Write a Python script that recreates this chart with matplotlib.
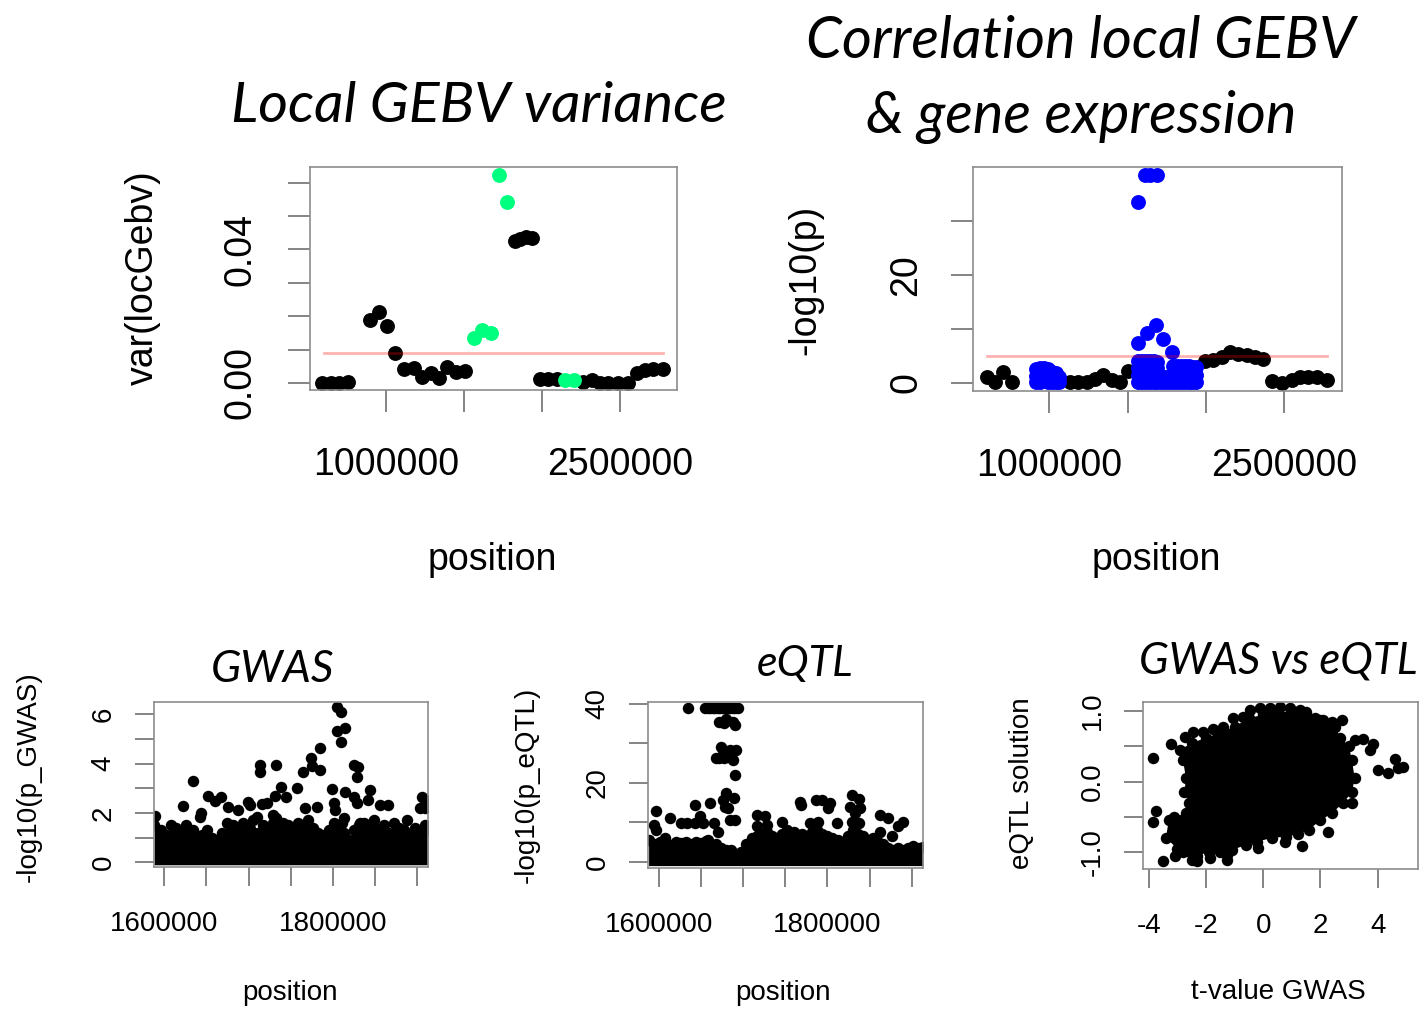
import numpy as np
from matplotlib import pyplot as plt

plt.rcParams['font.family'] = ['Liberation Sans', 'DejaVu Sans']

# ---- top left: local GEBV variance ----
tl_pos = [590000, 647000, 699000, 756000, 897000, 957000, 1004000, 1060000, 1117000,
          1181000, 1233000, 1286000, 1340000, 1389000, 1447000, 1506000, 1827000, 1860000,
          1895000, 1938000, 1987000, 2041000, 2094000, 2265000, 2319000, 2372000, 2425000,
          2489000, 2553000, 2611000, 2660000, 2714000, 2778000]
tl_var = [0.0, 0.0, 0.0, 0.0002, 0.0189, 0.0213, 0.0172, 0.0091, 0.0042,
          0.0044, 0.0017, 0.0031, 0.0014, 0.0047, 0.0033, 0.0035, 0.0425, 0.0432,
          0.0438, 0.0433, 0.0012, 0.0013, 0.0013, 0.0004, 0.0009, 0.0, 0.0,
          0.0001, 0.0001, 0.0029, 0.0039, 0.0042, 0.0041]
tl_sig_pos = [1564000, 1617000, 1675000, 1724000, 1778000, 2147000, 2205000]
tl_sig_var = [0.0136, 0.0159, 0.0150, 0.0622, 0.0542, 0.0009, 0.0009]
tl_thresh = 0.0091
tl_thresh_range = [600000, 2778000]

# ---- top right: correlation local GEBV & expression ----
tr_pos = [600000, 653000, 706000, 760000, 1132000, 1185000, 1239000, 1292000, 1345000,
          1399000, 1452000, 1505000, 1996000, 2049000, 2102000, 2155000, 2208000, 2262000,
          2315000, 2368000, 2422000, 2486000, 2550000, 2603000, 2656000, 2710000, 2774000]
tr_logp = [1.0, 0.2, 2.0, 0.2, 0.2, 0.2, 0.2, 0.8, 1.4,
           0.5, 0.2, 2.2, 4.0, 4.2, 4.8, 5.7, 5.4, 5.2,
           4.8, 4.4, 0.3, 0.0, 0.5, 1.1, 1.1, 1.1, 0.6]
tr_sig_pos = [915000, 915000, 915000, 940000, 940000, 940000, 965000, 965000, 965000,
              990000, 990000, 990000, 1015000, 1015000, 1015000, 1040000, 1040000, 1040000,
              1063000, 1063000,
              1569000, 1569000, 1569000, 1569000, 1595000, 1595000, 1595000, 1595000,
              1620000, 1620000, 1620000, 1620000, 1645000, 1645000, 1645000, 1645000,
              1670000, 1670000, 1670000, 1670000, 1690000, 1690000, 1690000, 1690000,
              1715000, 1715000, 1740000, 1740000, 1765000, 1765000,
              1790000, 1790000, 1790000, 1815000, 1815000, 1815000, 1840000, 1840000, 1840000,
              1865000, 1865000, 1865000, 1890000, 1890000, 1890000, 1915000, 1915000, 1915000,
              1940000, 1940000, 1940000,
              1569000, 1612000, 1644000, 1687000, 1569000, 1623000, 1680000, 1729000, 1783000]
tr_sig_logp = [0.2, 1.2, 2.6, 0.2, 1.5, 2.8, 0.3, 1.3, 2.7,
               0.2, 1.0, 2.6, 0.2, 1.1, 2.0, 0.2, 1.2, 1.9,
               0.2, 1.1,
               0.2, 1.5, 2.8, 4.1, 0.2, 1.5, 2.8, 4.1,
               0.2, 1.5, 2.8, 4.1, 0.2, 1.5, 2.8, 4.1,
               0.2, 1.5, 2.8, 4.0, 0.2, 1.5, 2.8, 3.8,
               0.2, 1.1, 0.2, 1.0, 0.2, 1.1,
               0.2, 1.6, 3.1, 0.2, 1.6, 3.1, 0.2, 1.6, 3.1,
               0.2, 1.6, 3.1, 0.2, 1.6, 3.1, 0.2, 1.6, 3.0,
               0.2, 1.5, 2.9,
               33.5, 38.4, 38.4, 38.4, 7.4, 9.2, 10.7, 8.1, 5.7]
tr_thresh = 5.0
tr_thresh_range = [600000, 2774000]

# ---- bottom left: GWAS (positions in kb) ----
# upper edge of the dense band of SNPs near zero
gwas_band_pos = [1588, 1596, 1602, 1608, 1614, 1620, 1626, 1632, 1638, 1645, 1651, 1657, 1663,
                 1669, 1675, 1681, 1687, 1693, 1699, 1705, 1711, 1717, 1723, 1729, 1735, 1741,
                 1747, 1753, 1759, 1765, 1771, 1777, 1783, 1789, 1795, 1801, 1807, 1813, 1819,
                 1825, 1831, 1837, 1843, 1849, 1855, 1861, 1867, 1873, 1879, 1885, 1891, 1897,
                 1903, 1909, 1913]
gwas_band_top = [1.5, 1.3, 1.1, 1.5, 1.4, 1.2, 1.5, 1.0, 0.9, 1.1, 1.3, 1.0, 0.9,
                 1.2, 1.6, 1.5, 1.4, 1.6, 1.4, 1.7, 1.2, 1.5, 1.3, 1.6, 1.4, 1.6,
                 1.5, 1.3, 1.6, 1.5, 1.7, 1.4, 1.2, 1.1, 1.3, 1.6, 1.4, 1.2, 0.9,
                 1.3, 1.5, 1.6, 1.4, 1.7, 1.3, 1.5, 1.2, 1.6, 1.4, 1.3, 1.1, 1.4,
                 1.2, 1.5, 1.3]
gwas_pos = [1805, 1810, 1805, 1815, 1810, 1785, 1774, 1775, 1765, 1785, 1714, 1714, 1733,
            1634, 1825, 1830, 1829, 1739, 1744, 1757, 1799, 1814, 1844, 1652, 1667, 1660,
            1622, 1699, 1702, 1716, 1722, 1731, 1644, 1642, 1676, 1688, 1710, 1767, 1781,
            1801, 1803, 1825, 1829, 1842, 1856, 1866, 1906, 1910, 1904, 1910, 1888, 1589,
            1634, 1636, 1678, 1690, 1729, 1733, 1813, 1811, 1832, 1848]
gwas_logp = [6.28, 6.10, 5.33, 5.43, 4.86, 4.64, 4.24, 3.90, 3.67, 3.73, 3.94, 3.65, 3.94,
             3.31, 3.94, 3.88, 3.47, 3.07, 2.66, 3.00, 2.97, 2.86, 2.95, 2.70, 2.63, 2.48,
             2.28, 2.46, 2.32, 2.35, 2.39, 2.69, 1.98, 1.85, 2.26, 2.12, 1.85, 2.19, 2.26,
             2.39, 2.12, 2.66, 2.39, 2.52, 2.32, 2.32, 2.66, 2.52, 2.19, 2.19, 1.71, 1.88,
             1.31, 1.04, 1.17, 1.31, 1.92, 1.78, 1.78, 1.58, 1.58, 1.65]

# ---- bottom middle: eQTL (positions in kb) ----
eqtl_band_pos = [1588, 1596, 1602, 1608, 1614, 1620, 1626, 1632, 1638, 1644, 1650, 1656, 1662,
                 1668, 1674, 1680, 1686, 1692, 1698, 1704, 1710, 1716, 1722, 1728, 1734, 1740,
                 1746, 1752, 1758, 1764, 1770, 1776, 1782, 1788, 1794, 1800, 1806, 1812, 1818,
                 1824, 1830, 1836, 1842, 1848, 1854, 1860, 1866, 1872, 1878, 1884, 1890, 1896,
                 1902, 1908, 1913]
eqtl_band_top = [5.5, 4.5, 5.0, 6.0, 4.2, 5.0, 4.8, 5.0, 4.5, 5.0, 4.7, 5.2, 4.0,
                 4.5, 3.5, 3.0, 3.0, 2.0, 2.5, 4.5, 6.0, 6.5, 7.0, 7.5, 6.5, 6.0,
                 7.0, 6.5, 5.5, 6.0, 7.0, 6.5, 7.5, 8.0, 7.0, 6.5, 6.0, 5.5, 5.0,
                 6.5, 8.0, 7.0, 6.5, 5.5, 6.0, 5.0, 4.5, 3.5, 3.0, 3.5, 3.0, 3.5,
                 4.0, 3.5, 3.8]
eqtl_pos = [1635, 1655, 1658, 1661, 1664, 1667, 1670, 1673, 1676, 1679, 1682, 1685, 1688,
            1691, 1694,
            1672, 1677, 1680, 1688, 1690, 1674, 1676, 1668, 1672, 1677, 1684, 1692, 1682,
            1688, 1690, 1680, 1676, 1678, 1689, 1682, 1684, 1690, 1597, 1613, 1594, 1597,
            1627, 1633, 1643, 1649, 1653, 1643, 1661, 1666, 1670, 1659, 1716, 1726, 1746,
            1767, 1769, 1787, 1793, 1803, 1801, 1829, 1837, 1827, 1833, 1839, 1829, 1837,
            1862, 1872, 1890, 1884, 1779, 1789, 1811, 1716, 1728, 1752, 1760, 1862, 1876]
eqtl_logp = [38.9, 38.9, 38.9, 38.9, 38.9, 38.9, 38.9, 38.9, 38.9, 38.9, 38.9, 38.9, 38.9,
             38.9, 38.9,
             35.4, 35.0, 36.2, 35.4, 34.5, 29.1, 27.4, 26.2, 26.2, 26.2, 28.3, 28.3, 26.6,
             25.7, 22.1, 17.4, 15.7, 14.0, 16.1, 13.6, 10.6, 10.6, 13.0, 11.1, 9.4, 8.1,
             9.8, 9.8, 9.8, 11.5, 9.8, 14.4, 15.0, 9.8, 7.5, 5.6, 11.9, 11.5, 10.2,
             15.1, 14.4, 15.7, 15.7, 14.8, 13.6, 16.9, 15.8, 14.0, 12.3, 13.6, 10.2, 9.8,
             11.9, 11.1, 10.0, 9.0, 9.8, 10.2, 9.8, 9.0, 9.4, 8.1, 7.7, 7.7, 6.5]

# ---- bottom right: GWAS t-value vs eQTL solution ----
# outline of the dense cloud, going round it
blob_t = [-3.4, -3.0, -2.8, -2.3, -1.9, -1.5, -1.1, -0.6, -0.2, 0.3, 0.8, 1.2, 1.6, 2.0,
          2.4, 2.8, 3.1, 3.2, 3.1, 3.0, 2.7, 2.5, 2.0, 1.5, 1.0, 0.5, 0.0, -0.5, -1.0,
          -1.5, -2.0, -2.5, -2.9, -2.8, -2.7, -2.75, -2.6, -2.7, -3.1, -3.3]
blob_e = [-0.8, -0.95, -1.0, -1.05, -1.0, -1.0, -0.97, -0.9, -0.85, -0.8, -0.78, -0.75,
          -0.68, -0.55, -0.45, -0.3, -0.15, 0.05, 0.3, 0.5, 0.62, 0.78, 0.88, 0.95, 1.0,
          0.98, 0.95, 0.9, 0.78, 0.7, 0.62, 0.55, 0.45, 0.3, 0.05, -0.15, -0.3, -0.45,
          -0.5, -0.55]
scat_t = [-3.84, -3.22, -3.73, -3.84, -3.49, -3.08, -2.62, -2.50, -2.33, -1.86, -1.28,
          -1.28, -0.17, 0.76, 1.34, 2.27, 2.74, 3.20, 3.49, 3.84, 3.73, 4.02, 4.37, 4.60,
          4.89, 4.71, 3.09, -2.74, -2.44, -2.10, -1.75, -1.40, -1.05, -0.70, -0.47, -0.12,
          0.23, 0.58, 0.93, 1.28, 1.51, 1.80, 2.10, 2.39]
scat_e = [0.33, 0.54, -0.42, -0.57, -1.13, -1.06, -0.99, -1.11, -1.13, -1.09, -1.11,
          -1.04, -0.94, -0.85, -0.92, -0.72, 0.87, 0.59, 0.61, 0.54, 0.45, 0.17, 0.12, 0.32,
          0.21, 0.19, -0.31, 0.64, 0.71, 0.71, 0.75, 0.78, 0.90, 0.92, 1.02, 1.04,
          1.04, 1.06, 1.04, 1.02, 0.99, 0.90, 0.87, 0.85]

W, H = 1424, 1009
fig = plt.figure(figsize=(W / 100, H / 100), dpi=100)


def add_ax(left, right, top, bottom):
    return fig.add_axes([left / W, 1 - bottom / H, (right - left) / W, (bottom - top) / H])


def style(ax, tick_len, size, pad_x, pad_y):
    for sp in ax.spines.values():
        sp.set_color('#8c8c8c')
        sp.set_linewidth(1.2)
    ax.tick_params(length=tick_len, width=1.2, color='#707070', labelsize=size)
    ax.tick_params(axis='x', pad=pad_x)
    ax.tick_params(axis='y', pad=pad_y, labelrotation=90)
    for lab in ax.get_yticklabels():
        lab.set_verticalalignment('center')


def ftext(x, y, s, **kw):
    fig.text(x / W, 1 - y / H, s, **kw)


title_font = dict(family='Lato', style='italic')
top_size, bot_size = 27, 20
top_pt, bot_pt = 115, 68

# top left
ax = add_ax(310, 677, 167, 390)
ax.scatter(tl_pos, tl_var, s=top_pt, c='black', linewidths=0)
ax.scatter(tl_sig_pos, tl_sig_var, s=top_pt, c='#00ff7f', linewidths=0)
ax.plot(tl_thresh_range, [tl_thresh, tl_thresh], color='red', alpha=0.3, lw=2)
ax.set_xlim(513000, 2865000)
ax.set_ylim(-0.0021, 0.0647)
ax.set_xticks([1000000, 1500000, 2000000, 2500000], ['1000000', '', '', '2500000'])
ax.set_yticks([0, 0.01, 0.02, 0.03, 0.04, 0.05, 0.06], ['0.00', '', '', '', '0.04', '', ''])
style(ax, 16, top_size, 25, 21)
ftext(143, 278, 'var(locGebv)', rotation=90, ha='center', va='center', fontsize=top_size)
ftext(492, 560, 'position', ha='center', va='center', fontsize=top_size)
ftext(479, 122, 'Local GEBV variance', ha='center', va='baseline', fontsize=41.3, **title_font)

# top right
ax = add_ax(973, 1342, 167, 391)
ax.scatter(tr_pos, tr_logp, s=top_pt, c='black', linewidths=0)
ax.scatter(tr_sig_pos, tr_sig_logp, s=top_pt, c='#0000ff', linewidths=0)
ax.plot(tr_thresh_range, [tr_thresh, tr_thresh], color='red', alpha=0.3, lw=2)
ax.set_xlim(512000, 2871000)
ax.set_ylim(-1.5, 39.9)
ax.set_xticks([1000000, 1500000, 2000000, 2500000], ['1000000', '', '', '2500000'])
ax.set_yticks([0, 10, 20, 30], ['0', '', '20', ''])
style(ax, 16, top_size, 25, 19)
ftext(805, 280, '-log10(p)', rotation=90, ha='center', va='center', fontsize=top_size)
ftext(1156, 560, 'position', ha='center', va='center', fontsize=top_size)
ftext(1081, 58, 'Correlation local GEBV', ha='center', va='baseline', fontsize=41.5, **title_font)
ftext(1081, 133, '& gene expression', ha='center', va='baseline', fontsize=41.5, **title_font)

# bottom left
ax = add_ax(154, 428, 702, 867)
ax.fill_between(gwas_band_pos, -0.1, gwas_band_top, color='black', lw=0)
ax.scatter(gwas_band_pos, gwas_band_top, s=bot_pt, c='black', linewidths=0)
ax.scatter(gwas_pos, gwas_logp, s=bot_pt, c='black', linewidths=0)
ax.set_xlim(1587.8, 1913)
ax.set_ylim(-0.19, 6.5)
ax.set_xticks([1600, 1650, 1700, 1750, 1800, 1850, 1900],
              ['1600000', '', '', '', '1800000', '', ''])
ax.set_yticks([0, 1, 2, 3, 4, 5, 6], ['0', '', '2', '', '4', '', '6'])
style(ax, 14, bot_size, 18, 13)
ftext(29, 777, '-log10(p_GWAS)', rotation=90, ha='center', va='center', fontsize=bot_size)
ftext(290, 993, 'position', ha='center', va='center', fontsize=bot_size)
ftext(273, 682, 'GWAS', ha='center', va='baseline', fontsize=32, **title_font)

# bottom middle
ax = add_ax(648, 923, 702, 868)
ax.fill_between(eqtl_band_pos, -0.9, eqtl_band_top, color='black', lw=0)
ax.scatter(eqtl_band_pos, eqtl_band_top, s=bot_pt, c='black', linewidths=0)
ax.scatter(eqtl_pos, eqtl_logp, s=bot_pt, c='black', linewidths=0)
ax.set_xlim(1587.3, 1913.3)
ax.set_ylim(-1.5, 40.4)
ax.set_xticks([1600, 1650, 1700, 1750, 1800, 1850, 1900],
              ['1600000', '', '', '', '1800000', '', ''])
ax.set_yticks([0, 10, 20, 30, 40], ['0', '', '20', '', '40'])
style(ax, 14, bot_size, 18, 13)
ftext(527, 785, '-log10(p_eQTL)', rotation=90, ha='center', va='center', fontsize=bot_size)
ftext(783, 993, 'position', ha='center', va='center', fontsize=bot_size)
ftext(805, 676, 'eQTL', ha='center', va='baseline', fontsize=31, **title_font)

# bottom right
ax = add_ax(1143, 1418, 702, 869)
ax.fill(blob_t, blob_e, color='black', lw=0)
ax.scatter(blob_t, blob_e, s=bot_pt, c='black', linewidths=0)
ax.scatter(scat_t, scat_e, s=bot_pt, c='black', linewidths=0)
ax.set_xlim(-4.2, 5.41)
ax.set_ylim(-1.24, 1.13)
ax.set_xticks([-4, -2, 0, 2, 4], ['-4', '-2', '0', '2', '4'])
ax.set_yticks([-1.0, -0.5, 0.0, 0.5, 1.0], ['-1.0', '', '0.0', '', '1.0'])
style(ax, 14, bot_size, 18, 13)
ftext(1022, 783, 'eQTL solution', rotation=90, ha='center', va='center', fontsize=bot_size)
ftext(1278, 992, 't-value GWAS', ha='center', va='center', fontsize=bot_size)
ftext(1278, 674, 'GWAS vs eQTL', ha='center', va='baseline', fontsize=31.5, **title_font)

fig.savefig('out.png', dpi=100)
